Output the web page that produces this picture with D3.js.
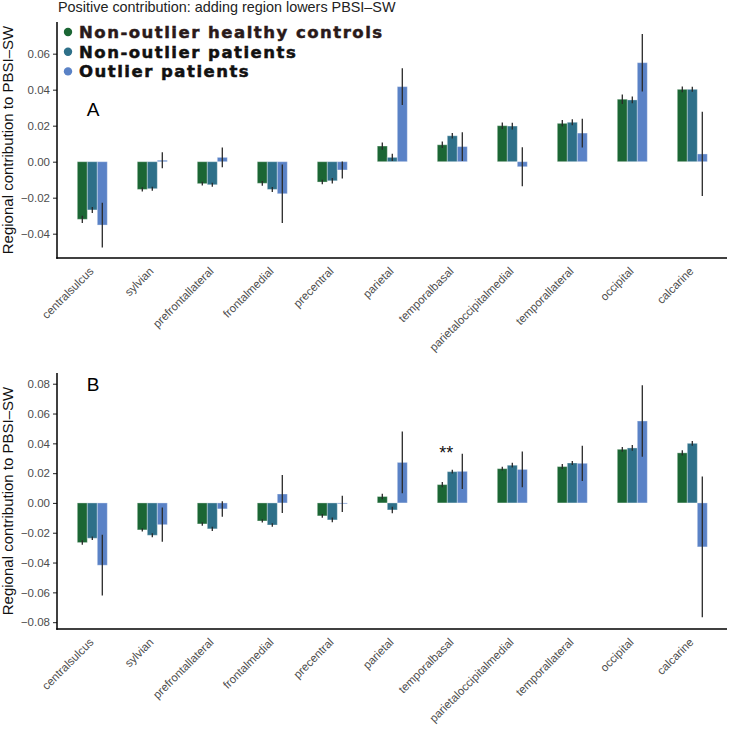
<!DOCTYPE html>
<html>
<head>
<meta charset="utf-8">
<script src="https://cdn.jsdelivr.net/npm/d3@7"></script>
<style>
  html, body { margin: 0; padding: 0; background: #ffffff; }
  svg { display: block; }
</style>
</head>
<body>
<div id="chart"></div>
<script>
// ---------- data ----------
const categories = ["centralsulcus","sylvian","prefrontallateral","frontalmedial","precentral","parietal","temporalbasal","parietaloccipitalmedial","temporallateral","occipital","calcarine"];
const groups = ["Non-outlier healthy controls","Non-outlier patients","Outlier patients"];
const groupColors = ["#1b6634","#2e7089","#5a82c6"];

// Panel A means and error half-widths
const aControls    = [-0.0320,-0.0154,-0.0122,-0.0120,-0.0113, 0.0087, 0.0094, 0.0200, 0.0213, 0.0347, 0.0402];
const aControlsErr = [ 0.0020, 0.0012, 0.0010, 0.0013, 0.0012, 0.0020, 0.0018, 0.0018, 0.0018, 0.0026, 0.0016];
const aPatients    = [-0.0268,-0.0150,-0.0128,-0.0154,-0.0106, 0.0024, 0.0144, 0.0198, 0.0219, 0.0343, 0.0402];
const aPatientsErr = [ 0.0017, 0.0011, 0.0011, 0.0014, 0.0015, 0.0020, 0.0015, 0.0019, 0.0017, 0.0019, 0.0014];
const aOutliers    = [-0.0352, 0.0008, 0.0024,-0.0178,-0.0046, 0.0417, 0.0084,-0.0028, 0.0159, 0.0550, 0.0043];
const aOutliersErr = [ 0.0124, 0.0045, 0.0055, 0.0163, 0.0047, 0.0102, 0.0080, 0.0108, 0.0080, 0.0160, 0.0234];

// Panel B means and error half-widths
const bControls    = [-0.0266,-0.0181,-0.0141,-0.0121,-0.0087, 0.0043, 0.0123, 0.0230, 0.0244, 0.0360, 0.0336];
const bControlsErr = [ 0.0015, 0.0011, 0.0012, 0.0011, 0.0013, 0.0018, 0.0017, 0.0013, 0.0017, 0.0016, 0.0018];
const bPatients    = [-0.0237,-0.0217,-0.0174,-0.0148,-0.0114,-0.0047, 0.0210, 0.0253, 0.0268, 0.0369, 0.0400];
const bPatientsErr = [ 0.0011, 0.0013, 0.0015, 0.0011, 0.0016, 0.0022, 0.0013, 0.0016, 0.0013, 0.0019, 0.0016];
const bOutliers    = [-0.0418,-0.0146,-0.0040, 0.0060,-0.0006, 0.0272, 0.0212, 0.0225, 0.0266, 0.0550,-0.0295];
const bOutliersErr = [ 0.0204, 0.0115, 0.0052, 0.0128, 0.0055, 0.0207, 0.0118, 0.0120, 0.0118, 0.0240, 0.0472];

const aTicks = [-0.04,-0.02,0.00,0.02,0.04,0.06];
const bTicks = [-0.08,-0.06,-0.04,-0.02,0.00,0.02,0.04,0.06,0.08];

const titleText = "Positive contribution: adding region lowers PBSI\u2013SW";
const yTitle = "Regional contribution to PBSI\u2013SW";

// ---------- drawing ----------
const W = 729, H = 729;
const svg = d3.select("#chart").append("svg").attr("width", W).attr("height", H)
  .style("font-family", "'Liberation Sans', Arial, sans-serif");

const xLeft = 57, xRight = 727;
const x = d3.scaleBand().domain(categories).range([62.3, 722.3]);
const xg = d3.scaleBand().domain(groups).range([x.bandwidth()*0.25, x.bandwidth()*0.75]);

function fmt(v) {
  const s = Math.abs(v).toFixed(2);
  return (v < -1e-9 ? "\u2212" : "") + s;
}

function drawPanel(cfg) {
  const y = d3.scaleLinear().domain(cfg.domain).range([cfg.bottom, cfg.top]);
  const g = svg.append("g");

  const series = [
    {key: groups[0], vals: cfg.means[0], errs: cfg.errs[0], color: groupColors[0]},
    {key: groups[1], vals: cfg.means[1], errs: cfg.errs[1], color: groupColors[1]},
    {key: groups[2], vals: cfg.means[2], errs: cfg.errs[2], color: groupColors[2]}
  ];

  series.forEach(s => {
    const rows = categories.map((c, i) => ({c, v: s.vals[i], e: s.errs[i]}));
    g.append("g").selectAll("rect").data(rows).join("rect")
      .attr("x", d => x(d.c) + xg(s.key))
      .attr("width", xg.bandwidth())
      .attr("y", d => Math.min(y(d.v), y(0)))
      .attr("height", d => Math.abs(y(d.v) - y(0)))
      .attr("fill", s.color)
      .attr("stroke", "#ffffff").attr("stroke-opacity", 0.35).attr("stroke-width", 1);
    g.append("g").selectAll("line").data(rows).join("line")
      .attr("x1", d => x(d.c) + xg(s.key) + xg.bandwidth()/2)
      .attr("x2", d => x(d.c) + xg(s.key) + xg.bandwidth()/2)
      .attr("y1", d => y(d.v - d.e))
      .attr("y2", d => y(d.v + d.e))
      .attr("stroke", "#2a2a2a").attr("stroke-width", 1.3);
  });

  // y axis
  const yAxis = d3.axisLeft(y).tickValues(cfg.ticks).tickFormat(fmt).tickSize(4).tickPadding(3);
  const ya = g.append("g").attr("transform", `translate(${xLeft},0)`).call(yAxis);
  ya.select(".domain").remove();
  ya.selectAll(".tick line").attr("stroke", "#333").attr("stroke-width", 1.1);
  ya.selectAll(".tick text").attr("fill", "#4d4d4d").style("font-size", "11.5px")
    .style("font-family", "'Liberation Sans', Arial, sans-serif");

  g.append("line").attr("x1", xLeft).attr("x2", xLeft)
    .attr("y1", cfg.top).attr("y2", cfg.bottom + 0.75)
    .attr("stroke", "#000").attr("stroke-width", 1.5);
  g.append("line").attr("x1", xLeft - 0.75).attr("x2", xRight)
    .attr("y1", cfg.bottom).attr("y2", cfg.bottom)
    .attr("stroke", "#000").attr("stroke-width", 1.5);

  // x labels
  g.append("g").selectAll("text").data(categories).join("text")
    .attr("transform", c => `translate(${x(c) + x.bandwidth()/2 + 2},${cfg.bottom + 14}) rotate(-45)`)
    .attr("text-anchor", "end")
    .attr("fill", "#4d4d4d").style("font-size", "11.5px")
    .text(c => c);

  // y title
  g.append("text")
    .attr("transform", `translate(13,${(cfg.top + cfg.bottom)/2}) rotate(-90)`)
    .attr("text-anchor", "middle").attr("fill", "#111").style("font-size", "15px")
    .text(yTitle);

  // panel letter
  g.append("text").attr("x", cfg.letterX).attr("y", cfg.letterY)
    .attr("text-anchor", "middle").attr("fill", "#000").style("font-size", "19px")
    .text(cfg.letter);

  return {g, y};
}

drawPanel({
  domain: [-0.0535, 0.0776], top: 22, bottom: 258, ticks: aTicks,
  means: [aControls, aPatients, aOutliers], errs: [aControlsErr, aPatientsErr, aOutliersErr],
  letter: "A", letterX: 93, letterY: 116
});

const pB = drawPanel({
  domain: [-0.0846, 0.0872], top: 373, bottom: 629, ticks: bTicks,
  means: [bControls, bPatients, bOutliers], errs: [bControlsErr, bPatientsErr, bOutliersErr],
  letter: "B", letterX: 93, letterY: 391
});

// significance marker on temporalbasal (panel B)
pB.g.append("text")
  .attr("x", x("temporalbasal") + x.bandwidth()/2 - 6)
  .attr("y", pB.y(bOutliers[6] + bOutliersErr[6]) + 5)
  .attr("text-anchor", "middle").attr("fill", "#111")
  .style("font-size", "18px").text("**");

// title
svg.append("text").attr("x", 58).attr("y", 12)
  .attr("fill", "#222").style("font-size", "14.4px").text(titleText);

// legend
const legend = svg.append("g");
groups.forEach((gname, i) => {
  const cy = 32 + i * 19.7;
  legend.append("circle").attr("cx", 68).attr("cy", cy).attr("r", 4.2).attr("fill", groupColors[i]);
  legend.append("text").attr("x", 79).attr("y", cy + 6)
    .attr("fill", i === 0 ? "#2a1a1a" : "#111")
    .attr("stroke", i === 0 ? "#2a1a1a" : "#111").attr("stroke-width", 0.5)
    .style("font-family", "'DejaVu Sans', sans-serif")
    .style("font-weight", "bold").style("font-size", "16.5px")
    .style("letter-spacing", "1.5px")
    .text(gname);
});
</script>
</body>
</html>
